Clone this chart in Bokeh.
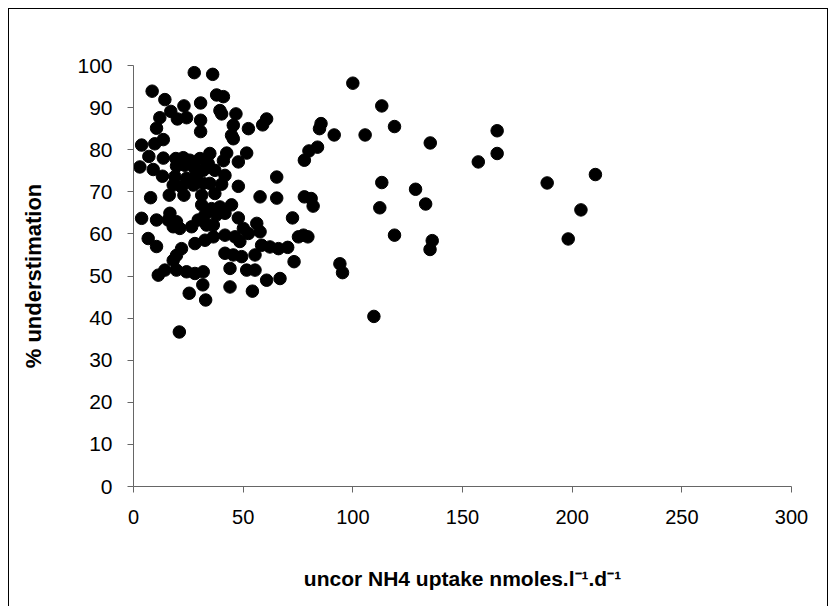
from bokeh.plotting import figure
from bokeh.models import FixedTicker, ColumnDataSource
from bokeh.embed import file_html
from bokeh.resources import INLINE

uptake = [
    27.7, 36.1,
    8.5, 14.3, 23.0, 30.6, 37.9, 41.0,
    17.0, 12.0, 20.0, 24.2, 30.6, 39.4, 40.2, 46.7,
    10.5, 30.6, 45.5, 52.4, 58.9, 60.7,
    44.7, 45.5,
    13.6, 9.7, 3.7,
    7.0, 13.6, 2.9, 9.0, 13.2,
    19.3, 22.7, 25.7, 30.3,
    19.6, 23.4, 28.0, 31.8,
    18.9, 24.2, 28.8,
    18.1, 21.9, 27.3, 31.8,
    7.8, 16.3, 23.0, 31.1,
    34.8, 42.5, 51.6, 41.0, 47.8,
    34.1, 37.1, 41.7, 40.2, 34.8, 47.8,
    37.1, 65.3, 57.7, 65.3,
    31.1, 3.7, 10.5, 16.6, 15.8, 19.6, 21.1, 18.1,
    26.5, 29.5, 32.6,
    6.7, 10.5, 21.9, 19.6, 18.1, 28.0, 32.6,
    11.3, 14.3, 19.6, 24.2, 28.0, 31.8,
    31.6, 25.4, 32.9, 20.9,
    35.6, 39.4, 44.7, 37.9, 41.7, 47.8,
    33.3, 36.4, 50.1, 52.4, 56.2, 57.7,
    36.4, 41.7, 46.3, 48.5,
    41.7, 45.5, 49.3, 55.4,
    58.4, 62.2, 66.1,
    51.6, 55.4, 44.0,
    60.7, 66.8, 44.0, 54.2,
    70.3, 73.2, 72.5, 75.2, 77.5, 79.5,
    77.9, 81.0, 81.9,
    83.9, 80.0, 77.9,
    85.5, 84.8, 91.5, 105.6, 119.0, 113.2, 100.0,
    135.3, 165.8, 165.8, 157.2,
    113.2, 128.6, 133.2, 112.3,
    119.0, 136.2, 135.2,
    94.1, 95.3, 109.6,
    188.6, 210.6, 204.0, 198.2,
]

understimation = [
    98.3, 97.9,
    93.9, 91.9, 90.4, 91.1, 93.0, 92.6,
    89.1, 87.6, 87.3, 87.6, 87.0, 89.3, 88.5, 88.5,
    85.1, 84.3, 85.8, 85.0, 85.9, 87.3,
    83.4, 82.6,
    82.4, 81.4, 81.1,
    78.4, 78.0, 75.9, 75.3, 73.7,
    77.9, 78.1, 77.5, 77.9,
    76.1, 76.3, 75.5, 75.1,
    73.6, 73.2, 74.0,
    71.6, 71.2, 71.6, 72.0,
    68.6, 69.2, 69.2, 69.2,
    79.1, 79.2, 79.2, 77.4, 77.1,
    76.7, 75.1, 73.9, 71.8, 72.0, 71.3,
    69.6, 73.5, 68.8, 68.5,
    66.9, 63.7, 63.3, 64.9, 63.3, 62.9, 61.3, 61.7,
    61.7, 63.3, 64.5,
    58.9, 57.0, 56.5, 54.9, 53.7, 57.7, 58.5,
    50.2, 51.4, 51.4, 51.0, 50.6, 51.0,
    47.9, 45.9, 44.3, 36.7,
    66.0, 66.4, 66.9, 64.5, 64.9, 63.8,
    62.1, 62.1, 61.3, 60.1, 62.5, 60.5,
    59.3, 59.7, 59.3, 58.2,
    55.4, 55.0, 54.6, 55.0,
    57.3, 56.9, 56.5,
    51.4, 51.4, 51.8,
    49.0, 49.4, 47.4, 46.4,
    56.8, 53.4, 63.8, 59.3, 59.7, 59.3,
    68.8, 68.4, 66.6,
    80.6, 79.7, 77.5,
    86.2, 85.0, 83.5, 83.5, 85.5, 90.4, 95.8,
    81.6, 84.5, 79.1, 77.1,
    72.2, 70.6, 67.1, 66.2,
    59.7, 58.4, 56.3,
    52.9, 50.8, 40.4,
    72.1, 74.1, 65.7, 58.8,
]

x_ticks = [0, 50, 100, 150, 200, 250, 300]
y_ticks = [0, 10, 20, 30, 40, 50, 60, 70, 80, 90, 100]

src = ColumnDataSource(dict(x=uptake, y=understimation))

p = figure(width=820, height=598, output_backend="svg", toolbar_location=None,
           x_range=(0, 300), y_range=(0, 100),
           min_border_left=124, min_border_right=38, min_border_top=56,
           min_border_bottom=121)
p.styles = {"border": "1px solid black", "border-bottom": "none",
            "box-sizing": "border-box",
            "margin-left": "8px", "margin-top": "8px"}
p.outline_line_color = None
p.grid.visible = False

p.scatter("x", "y", source=src, size=12.5, fill_color="black", line_color="black")

for ax in (p.xaxis[0], p.yaxis[0]):
    ax.axis_line_color = "#666666"
    ax.major_tick_line_color = "#666666"
    ax.minor_tick_line_color = None
    ax.major_tick_out = 6
    ax.major_tick_in = 0
    ax.major_label_text_color = "black"
    ax.major_label_text_font = "Liberation Sans"
    ax.axis_label_text_color = "black"
    ax.axis_label_text_font = "Liberation Sans"
    ax.axis_label_text_font_style = "bold"

p.xaxis.ticker = FixedTicker(ticks=x_ticks)
p.yaxis.ticker = FixedTicker(ticks=y_ticks)

p.xaxis.major_label_text_font_size = "20px"
p.xaxis.major_label_standoff = 17
p.xaxis.axis_label = "uncor NH4 uptake nmoles.l\u207b\u00b9.d\u207b\u00b9"
p.xaxis.axis_label_text_font_size = "21px"
p.xaxis.axis_label_standoff = 40

p.yaxis.major_label_text_font_size = "21px"
p.yaxis.major_label_standoff = 15
p.yaxis.axis_label = "% understimation"
p.yaxis.axis_label_text_font_size = "22px"
p.yaxis.axis_label_standoff = 28

open("out.html", "w").write(file_html(p, INLINE))
